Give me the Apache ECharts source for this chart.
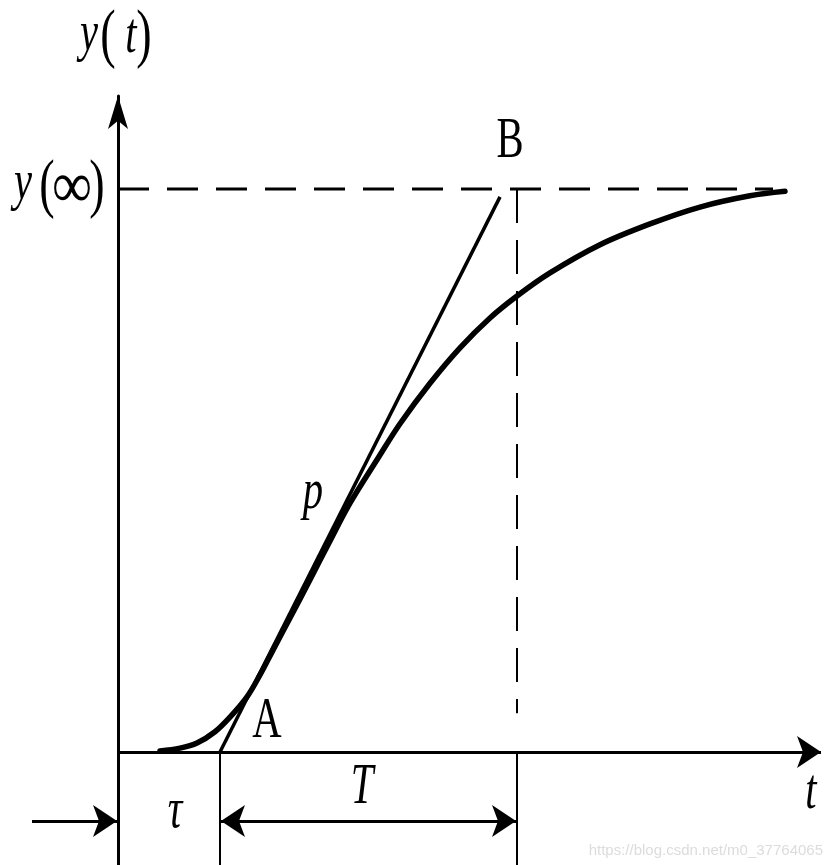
<!DOCTYPE html>
<html><head><meta charset="utf-8">
<script src="https://cdn.jsdelivr.net/npm/echarts@6/dist/echarts.min.js"></script>
<style>html,body{margin:0;padding:0;background:#fff}#c{width:833px;height:865px}</style>
</head><body><div id="c"></div>
<script>
// ---- data (t in units of 1, y normalised so that y(inf) = 1) ----
const curveT = [0.42,0.62,0.79,0.97,1.12,1.29,1.42,1.55,1.72,1.92,2.12,2.32,2.59,2.82,3.12,3.42,3.72,3.99,4.32,4.82,5.32,5.82,6.32,6.67];
const curveY = [0.002,0.007,0.016,0.036,0.062,0.098,0.137,0.181,0.238,0.306,0.375,0.442,0.519,0.583,0.655,0.718,0.771,0.810,0.851,0.901,0.938,0.968,0.988,0.996];
const tangentT = [1.02, 3.82];
const tangentY = [0, 0.986];
const tau = 1.02;          // dead time
const Tconst = 2.97;       // time constant
const yInf = 1;
const yInfDashEnd = 6.55;
const vDashBottom = 0.069;
const xRange = [-1.18, 7.05];
const yRange = [-0.2007, 1.1652];
const tAxisEnd = 7.03;
const arrowRowY = -0.1226;
const tauArrowStart = -0.86;
const arrowGap = 0.01;

const black = '#000';
const chart = echarts.init(document.getElementById('c'), null, {renderer: 'canvas'});

const serif = '"Liberation Serif", "Times New Roman", serif';
function txt(text, x, y, opts) {
  opts = opts || {};
  const size = opts.size || 58;
  return {
    type: 'text', x: x, y: y, scaleX: opts.sx || 0.7, z: 100,
    style: {
      text: text, fill: opts.fill || black,
      font: (opts.italic ? 'italic ' : '') + size + 'px ' + (opts.family || serif),
      align: opts.align || 'center', verticalAlign: 'middle'
    }
  };
}

const option = {
  animation: false,
  backgroundColor: '#fff',
  grid: {left: 0, right: 10, top: 96, bottom: 0, containLabel: false},
  xAxis: {
    type: 'value', min: xRange[0], max: xRange[1],
    axisLine: {show: false}, axisTick: {show: false}, axisLabel: {show: false}, splitLine: {show: false}
  },
  yAxis: {
    type: 'value', min: yRange[0], max: yRange[1],
    axisLine: {show: true, onZero: true, symbol: ['none', 'arrow'], symbolSize: [15, 33],
      lineStyle: {color: black, width: 3}},
    axisTick: {show: false}, axisLabel: {show: false}, splitLine: {show: false}
  },
  series: [
    {
      type: 'line', name: 'curve', smooth: 0.35, showSymbol: false, z: 5,
      data: curveT.map((t, i) => [t, curveY[i]]),
      lineStyle: {color: black, width: 5.5, cap: 'round'}
    },
    {
      type: 'line', name: 'tangent', showSymbol: false, z: 4,
      data: tangentT.map((t, i) => [t, tangentY[i]]),
      lineStyle: {color: black, width: 3.5}
    },
    {
      type: 'line', name: 'yinf', showSymbol: false, z: 3,
      data: [[0, yInf], [yInfDashEnd, yInf]],
      lineStyle: {color: black, width: 3, type: [31, 18]}
    },
    {
      type: 'line', name: 'vdash', showSymbol: false, z: 3,
      data: [[tau + Tconst, yInf], [tau + Tconst, vDashBottom]],
      lineStyle: {color: black, width: 2, type: [34, 17]}
    },
    {
      type: 'lines', coordinateSystem: 'cartesian2d', z: 3,
      lineStyle: {color: black, width: 2, opacity: 1},
      data: [
        {coords: [[tau, 0], [tau, yRange[0]]]},
        {coords: [[tau + Tconst, 0], [tau + Tconst, yRange[0]]]}
      ]
    },
    {
      type: 'lines', coordinateSystem: 'cartesian2d', z: 6,
      symbol: ['none', 'arrow'], symbolSize: 24,
      lineStyle: {color: black, width: 3, opacity: 1},
      data: [
        {coords: [[0, 0], [tAxisEnd, 0]]},
        {coords: [[tauArrowStart, arrowRowY], [-arrowGap, arrowRowY]]}
      ]
    },
    {
      type: 'lines', coordinateSystem: 'cartesian2d', z: 6,
      symbol: ['arrow', 'arrow'], symbolSize: 24,
      lineStyle: {color: black, width: 3, opacity: 1},
      data: [
        {coords: [[tau + arrowGap, arrowRowY], [tau + Tconst - arrowGap, arrowRowY]]}
      ]
    }
  ],
  graphic: [
    txt('y', 89, 35, {italic: true}),
    txt('(', 108, 38, {size: 66}),
    txt('t', 131, 37, {italic: true}),
    txt(')', 144, 38, {size: 66}),
    txt('y', 23, 184, {italic: true}),
    txt('(', 47, 188, {size: 66}),
    txt('\u221E', 72, 190, {size: 66, sx: 0.85}),
    txt(')', 97, 188, {size: 66}),
    txt('B', 510, 142),
    txt('A', 267, 722),
    txt('p', 313, 493, {italic: true}),
    txt('T', 362, 788, {italic: true}),
    txt('\u03C4', 175, 812, {italic: true}),
    txt('t', 811, 793, {italic: true}),
    txt('https://blog.csdn.net/m0_37764065', 823, 851,
      {size: 15, sx: 1, align: 'right', fill: '#dcdcdc', family: '"Liberation Sans", Arial, sans-serif'})
  ]
};
chart.setOption(option);
</script>
</body></html>
